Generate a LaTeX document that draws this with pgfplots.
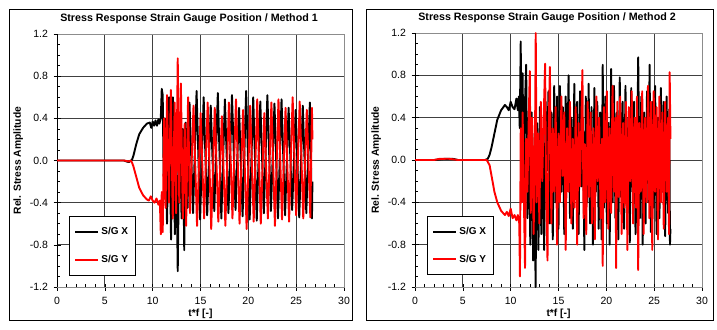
\documentclass[border=0pt]{standalone}
\usepackage{pgfplots}
\pgfplotsset{compat=1.18}
\usepackage{fontspec}
\setmainfont{Liberation Sans}

\pgfplotsset{
  sgstyle/.style={
    scale only axis,
    width=287bp,
    xmin=0, xmax=30, ymin=-1.2, ymax=1.2,
    xtick={0,5,...,30},
    ytick={-1.2,-0.8,-0.4,0,0.4,0.8,1.2},
    minor x tick num=4,
    minor y tick num=3,
    xtick pos=left, ytick pos=left,
    tick align=center,
    major tick length=7bp,
    minor tick length=3bp,
    minor x tick style={yshift=1.5bp},
    minor y tick style={xshift=1.5bp},
    every tick/.style={black, line width=0.6bp},
    grid=major,
    major grid style={black!75, line width=0.7bp},
    axis line style={black!45, line width=0.8bp},
    tick label style={font=\fontsize{10.5bp}{12bp}\selectfont},
    /pgf/number format/assume math mode=true,
    yticklabel={\pgfmathprintnumber[fixed, fixed zerofill, precision=1]{\tick}},
    xticklabel style={yshift=-3bp},
    yticklabel style={xshift=-2bp},
    title style={font=\bfseries\fontsize{10.7bp}{12bp}\selectfont, at={(0.46,1)}, yshift=1bp},
    xlabel={t*f [-]},
    ylabel={Rel. Stress Amplitude},
    label style={font=\bfseries\fontsize{10.3bp}{12bp}\selectfont},
    xlabel style={yshift=2bp},
    ylabel style={yshift=0bp},
    legend cell align=left,
    legend style={at={(0.042,0.280)}, anchor=north west, draw=black, fill=white,
      font=\bfseries\fontsize{10bp}{12bp}\selectfont, inner xsep=5bp, inner ysep=9bp,
      row sep=15bp, line width=0.8bp},
    legend image code/.code={\draw[#1, line width=1.9bp] (0bp,0bp) -- (23bp,0bp);},
  },
  sgline/.style={line width=1.9bp, line join=round},
}

\begin{document}
\begin{tikzpicture}[x=1bp, y=1bp]
\path[use as bounding box] (0,0) rectangle (717,329);
% panel frames
\draw[black, line width=0.9bp] (9,9) rectangle (352,320);
\draw[black, line width=0.9bp] (366,9) rectangle (713,320);

% ---------------- Method 1 ----------------
\begin{axis}[sgstyle, at={(57bp,42bp)}, anchor=south west, height=253bp,
  title={Stress Response Strain Gauge Position / Method 1}]
\draw[black, line width=1bp] (rel axis cs:0,0) -- (rel axis cs:0,1);
\addplot[black, sgline] coordinates {
(0,0) (2,0) (4,0) (6,0) (7.0,0) (7.3,-0.01) (7.5,-0.015) (7.7,-0.005) (7.85,0.01)
(8.0,0.05) (8.3,0.16) (8.6,0.25) (9.0,0.31) (9.4,0.35) (9.7,0.36) (9.85,0.31)
(10.0,0.37) (10.15,0.33) (10.3,0.38) (10.45,0.33) (10.6,0.39) (10.7,0.35) (10.85,0.40)
(10.95,0.68) (11.05,0.62) (11.15,-0.15) (11.3,0.40) (11.5,-0.60) (11.72,0.60)
(11.92,-0.75) (12.12,0.60) (12.32,-0.70) (12.45,0.20) (12.62,-1.05) (12.82,0.45)
(13.02,-0.55) (13.15,0.30) (13.3,-0.85) (13.45,0.36) (13.65,-0.45)
(13.85,0.55) (14.22,-0.50) (14.59,0.66) (14.96,-0.56) (15.33,0.60) (15.70,-0.52)
(16.07,0.52) (16.44,-0.48) (16.81,0.64) (17.18,-0.55) (17.55,0.58) (17.92,-0.50)
(18.29,0.62) (18.66,-0.47) (19.03,0.50) (19.40,-0.53) (19.77,0.66) (20.14,-0.56)
(20.51,0.60) (20.88,-0.57) (21.25,0.56) (21.62,-0.50) (21.99,0.62) (22.36,-0.48)
(22.73,0.54) (23.10,-0.55) (23.47,0.58) (23.84,-0.52) (24.21,0.50) (24.58,-0.47)
(24.95,0.48) (25.32,-0.54) (25.69,0.52) (26.06,-0.50) (26.43,0.55) (26.65,-0.55)
(26.7,-0.20)
};
\addlegendentry{S/G X}
\addplot[red, sgline] coordinates {
(0,0) (2,0) (4,0) (6,0) (7.0,0) (7.3,-0.005) (7.5,-0.01) (7.7,0.0) (7.85,-0.02)
(8.0,-0.06) (8.3,-0.16) (8.6,-0.26) (9.0,-0.33) (9.4,-0.37) (9.6,-0.38) (9.8,-0.34)
(10.0,-0.38) (10.2,-0.40) (10.4,-0.36) (10.6,-0.42) (10.75,-0.38)
(10.85,-0.70) (10.95,-0.30) (11.05,-0.68) (11.2,0.40) (11.35,-0.45) (11.5,0.62)
(11.7,-0.40) (11.9,0.67) (12.1,-0.55) (12.3,0.55) (12.45,-0.50) (12.62,0.97)
(12.78,-0.40) (12.95,0.73) (13.15,-0.55) (13.35,0.35) (13.5,-0.62) (13.7,0.60)
(13.90,-0.50) (14.27,0.52) (14.64,-0.62) (15.01,0.45) (15.38,-0.55) (15.75,0.55)
(16.12,-0.65) (16.49,0.50) (16.86,-0.58) (17.23,0.42) (17.60,-0.62) (17.97,0.55)
(18.34,-0.55) (18.71,0.58) (19.08,-0.60) (19.45,0.48) (19.82,-0.65) (20.19,0.52)
(20.56,-0.58) (20.93,0.58) (21.30,-0.60) (21.67,0.45) (22.04,-0.55) (22.41,0.55)
(22.78,-0.62) (23.15,0.58) (23.52,-0.56) (23.89,0.50) (24.26,-0.58) (24.63,0.60)
(25.00,-0.52) (25.37,0.56) (25.74,-0.55) (26.11,0.48) (26.48,-0.54) (26.65,0.50)
(26.7,0.20)
};
\addlegendentry{S/G Y}
\end{axis}

% ---------------- Method 2 ----------------
\begin{axis}[sgstyle, at={(415bp,42bp)}, anchor=south west, height=254bp,
  title={Stress Response Strain Gauge Position / Method 2}]
\draw[black, line width=1bp] (rel axis cs:0,0) -- (rel axis cs:0,1);
\addplot[black, sgline] coordinates {
(0,0) (2.0,0) (2.5,0.005) (3.0,0.01) (4.0,0.01) (4.5,0) (6,0) (7.0,0) (7.3,0.0)
(7.6,0.01) (7.8,0.05) (8.0,0.12) (8.3,0.25) (8.6,0.38) (9.0,0.47) (9.4,0.52)
(9.6,0.50) (9.8,0.47) (10.0,0.55) (10.2,0.50) (10.4,0.48) (10.6,0.58) (10.75,0.47)
(10.85,0.60) (10.95,0.30) (11.05,1.12) (11.15,-0.30) (11.25,0.82) (11.35,-0.35)
(11.5,0.55) (11.62,0.90) (11.75,-0.55) (11.9,0.40) (12.05,-0.80) (12.2,0.45)
(12.35,-0.95) (12.5,0.25) (12.6,-1.20) (12.75,0.35) (12.9,-0.85) (13.05,0.50)
(13.2,-0.70) (13.35,0.10) (13.5,-0.85) (13.65,0.55) (13.8,-0.10) (13.95,0.65)
(14.1,-0.60) (14.25,0.45) (14.4,-0.75) (14.55,0.70) (14.7,-0.40) (14.85,0.60)
(15.0,-0.65) (15.15,0.70) (15.3,-0.30) (15.45,0.50) (15.6,-0.70) (15.75,0.60)
(15.9,-0.20) (16.05,0.80) (16.2,-0.55) (16.35,0.40) (16.5,-0.65) (16.65,0.72)
(16.8,-0.35) (16.95,0.55) (17.1,-0.70) (17.25,0.65) (17.4,-0.25) (17.55,0.40)
(17.7,-0.85) (17.85,0.60) (18.0,-0.40) (18.15,0.72) (18.3,-0.60) (18.45,0.50)
(18.6,-0.80) (18.75,0.68) (18.9,-0.30) (19.05,0.55) (19.2,-0.65) (19.35,0.45)
(19.5,-0.75) (19.62,0.90) (19.75,-0.45) (19.9,0.60) (20.05,-0.60) (20.2,0.35)
(20.35,-0.80) (20.5,0.86) (20.65,-0.40) (20.8,0.70) (20.95,-0.55) (21.1,0.45)
(21.25,-0.75) (21.4,0.78) (21.55,-0.35) (21.7,0.55) (21.85,-0.65) (22.0,0.70)
(22.15,-0.50) (22.3,0.40) (22.45,-0.78) (22.6,0.68) (22.75,-0.30) (22.9,0.55)
(23.05,-0.70) (23.2,-0.15) (23.33,0.97) (23.5,-0.55) (23.65,0.60) (23.8,-0.80)
(23.95,0.45) (24.1,-0.60) (24.25,0.65) (24.4,-0.40) (24.52,0.90) (24.65,-0.68)
(24.8,0.55) (24.95,-0.45) (25.1,0.70) (25.25,-0.70) (25.4,0.40) (25.55,-0.55)
(25.7,0.68) (25.85,-0.30) (26.0,0.55) (26.15,-0.72) (26.3,0.60) (26.45,-0.50)
(26.58,0.48) (26.65,-0.80) (26.7,-0.65)
};
\addlegendentry{S/G X}
\addplot[red, sgline] coordinates {
(0,0) (2.0,0) (2.5,0.01) (3.5,0.012) (4.5,0) (6,0) (7.0,0) (7.5,0) (7.8,-0.05)
(8.0,-0.15) (8.3,-0.30) (8.6,-0.40) (9.0,-0.48) (9.4,-0.52) (9.6,-0.49) (9.8,-0.53)
(10.0,-0.46) (10.2,-0.55) (10.4,-0.52) (10.6,-0.57) (10.75,-0.52) (10.9,-0.60)
(10.97,-1.10) (11.05,0.30) (11.15,-0.40) (11.25,0.45) (11.35,-0.20) (11.5,-1.02)
(11.62,0.20) (11.75,-0.30) (11.9,0.45) (12.0,0.84) (12.1,-0.50) (12.25,0.40)
(12.4,-0.70) (12.55,0.30) (12.62,1.20) (12.72,-0.40) (12.85,0.25) (13.0,-0.60)
(13.15,0.55) (13.3,-0.20) (13.45,0.40) (13.6,0.91) (13.7,-0.30) (13.85,-0.95)
(13.95,0.20) (14.1,0.88) (14.25,-0.60) (14.4,0.30) (14.55,-0.30) (14.7,0.50)
(14.85,-0.80) (15.0,0.25) (15.15,-0.40) (15.3,0.60) (15.45,-0.15) (15.6,0.45)
(15.75,-0.85) (15.9,0.30) (16.05,-0.30) (16.2,0.55) (16.35,-0.60) (16.5,0.20)
(16.65,-0.45) (16.8,0.50) (16.95,-0.80) (17.1,0.35) (17.25,-0.25) (17.4,0.40)
(17.5,0.85) (17.62,-0.55) (17.75,0.15) (17.9,-0.70) (18.05,0.55) (18.2,-0.35)
(18.35,0.45) (18.5,-0.60) (18.65,0.30) (18.8,-0.75) (18.95,0.60) (19.1,-0.20)
(19.25,0.40) (19.4,-0.55) (19.55,0.20) (19.62,-1.00) (19.75,0.50) (19.9,-0.40)
(20.05,0.65) (20.2,-0.65) (20.35,0.30) (20.5,-0.50) (20.65,0.70) (20.8,-0.30)
(20.95,0.40) (21.02,-1.02) (21.15,0.55) (21.3,-0.35) (21.45,0.60) (21.6,-0.70)
(21.75,0.35) (21.9,-0.45) (22.05,0.55) (22.2,-0.85) (22.35,0.50) (22.5,-0.20)
(22.65,0.65) (22.8,-0.60) (22.95,0.40) (23.1,-0.45) (23.2,0.60) (23.33,-1.04)
(23.45,0.35) (23.6,-0.30) (23.75,0.65) (23.9,-0.70) (24.05,0.40) (24.2,-0.40)
(24.35,0.70) (24.5,-0.55) (24.65,0.55) (24.8,-0.85) (24.95,0.65) (25.1,-0.30)
(25.25,0.50) (25.4,-0.75) (25.55,0.60) (25.7,-0.40) (25.85,0.45) (26.0,-0.65)
(26.15,0.55) (26.3,-0.30) (26.45,0.40) (26.55,-0.70) (26.62,0.83) (26.7,0.20)
};
\addlegendentry{S/G Y}
\end{axis}
\end{tikzpicture}
\end{document}
